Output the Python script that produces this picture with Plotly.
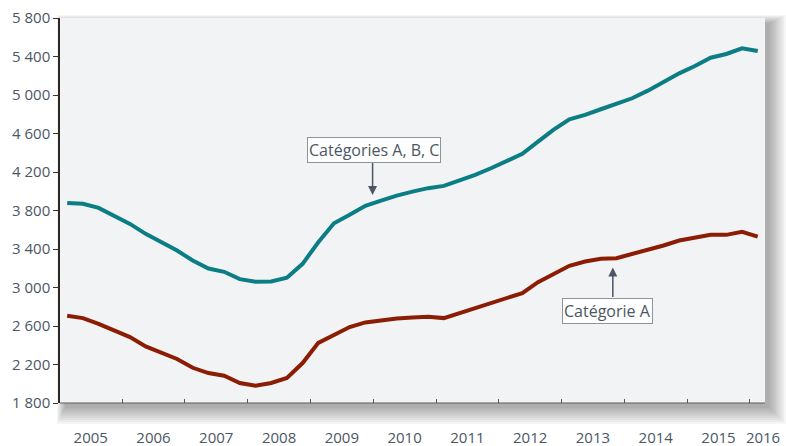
import plotly.graph_objects as go

# Quarterly data, 2005 Q1 .. 2016 Q1 (thousands)
x_pos = [2005 + (q - 0.5) / 4 + (y - 2005) for y in range(2005, 2017) for q in range(1, 5)][:45]

cat_abc = [3877, 3869, 3827, 3744,
           3661, 3557, 3467, 3384,
           3280, 3197, 3163, 3087,
           3059, 3062, 3101, 3246,
           3470, 3668, 3755, 3848,
           3903, 3955, 3996, 4032,
           4056, 4111, 4170, 4239,
           4315, 4388, 4516, 4640,
           4748, 4793, 4852, 4907,
           4966, 5045, 5138, 5225,
           5301, 5387, 5426, 5485,
           5457]

cat_a = [2706, 2682, 2623, 2550,
         2485, 2388, 2319, 2257,
         2166, 2111, 2083, 2008,
         1980, 2008, 2060, 2215,
         2425, 2509, 2589, 2637,
         2662, 2678, 2689, 2696,
         2682, 2734, 2776, 2838,
         2880, 2942, 3056, 3137,
         3225, 3270, 3298, 3305,
         3347, 3388, 3436, 3488,
         3513, 3547, 3547, 3578,
         3529]

y_ticks = [1800, 2200, 2600, 3000, 3400, 3800, 4200, 4600, 5000, 5400, 5800]
y_ticktext = ["1 800", "2 200", "2 600", "3 000", "3 400", "3 800", "4 200", "4 600", "5 000", "5 400", "5 800"]
year_labels = ["2005", "2006", "2007", "2008", "2009", "2010", "2011", "2012", "2013", "2014", "2015", "2016"]
year_label_pos = [2005.5, 2006.5, 2007.5, 2008.5, 2009.5, 2010.5, 2011.5, 2012.5, 2013.5, 2014.5, 2015.5, 2016.21]
year_bounds = list(range(2006, 2017))

TEAL = "#0b7d84"
RED = "#8c1d05"
TXT = "#4b5764"
BG = "#f2f3f5"
FONT = "Open Sans"

W, H = 786, 446
ML, MR, MT, MB = 59.5, 21, 18, 42.5
PW, PH = W - ML - MR, H - MT - MB

fig = go.Figure()
fig.add_trace(go.Scatter(x=x_pos, y=cat_abc, mode="lines", name="Catégories A, B, C",
                         line=dict(color=TEAL, width=4), hoverinfo="skip"))
fig.add_trace(go.Scatter(x=x_pos, y=cat_a, mode="lines", name="Catégorie A",
                         line=dict(color=RED, width=4), hoverinfo="skip"))

shapes = []
def px_x(p):
    return p / PW
def px_y(p):
    return p / PH
off = 5
for b in range(16, -1, -2):
    shapes.append(dict(type="rect", xref="paper", yref="paper", layer="below",
                       x0=px_x(off - b * 0.5), x1=1 + px_x(off + b),
                       y0=-px_y(off + b), y1=1 - px_y(off - b * 0.5),
                       fillcolor="rgba(0,0,0,0.04)", line=dict(width=0)))
shapes.append(dict(type="rect", xref="paper", yref="paper", layer="below",
                   x0=0, x1=1, y0=0, y1=1, fillcolor=BG, line=dict(width=0)))
shapes.append(dict(type="line", xref="paper", yref="paper", layer="above",
                   x0=0, x1=1, y0=0, y1=0, line=dict(color="#5a5a5a", width=1)))

annotations = [
    dict(x=2009.99, y=3962, xref="x", yref="y", text="", showarrow=True,
         ax=0, ay=-34, axref="pixel", ayref="pixel", arrowhead=2, arrowsize=1.2,
         arrowwidth=1.5, arrowcolor=TXT, standoff=0, startstandoff=0),
    dict(x=2010.017, y=4429, xref="x", yref="y", text="Catégories A, B, C", showarrow=False,
         font=dict(family=FONT, size=16, color=TXT), bgcolor="white",
         bordercolor="#8d959c", borderwidth=1, borderpad=1),
    dict(x=2013.817, y=3208, xref="x", yref="y", text="", showarrow=True,
         ax=0, ay=31, axref="pixel", ayref="pixel", arrowhead=2, arrowsize=1.2,
         arrowwidth=1.5, arrowcolor=TXT, standoff=0, startstandoff=0),
    dict(x=2013.731, y=2761, xref="x", yref="y", text="Catégorie A", showarrow=False,
         font=dict(family=FONT, size=16, color=TXT), bgcolor="white",
         bordercolor="#8d959c", borderwidth=1, borderpad=1),
]

fig.update_layout(
    width=W, height=H,
    margin=dict(l=ML, r=MR, t=MT, b=MB, pad=0, autoexpand=False),
    paper_bgcolor="white", plot_bgcolor=BG,
    showlegend=False,
    font=dict(family=FONT, size=15, color=TXT),
    shapes=shapes, annotations=annotations,
    xaxis=dict(range=[2005.0104, 2016.241], showgrid=False, zeroline=False,
               automargin=False,
               tickvals=year_label_pos, ticktext=year_labels, ticks="",
               ticklabelstandoff=24, tickfont=dict(family=FONT, size=15, color=TXT),
               showline=False,
               minor=dict(tickvals=year_bounds, ticks="inside", ticklen=4,
                          tickcolor="#555555", tickwidth=1, showgrid=False)),
    yaxis=dict(range=[1800, 5800], showgrid=False, zeroline=False,
               automargin=False,
               tickvals=y_ticks, ticktext=y_ticktext, ticks="outside", ticklen=5,
               tickcolor="#3a3530", tickwidth=1,
               showline=True, linecolor="#2e2824", linewidth=1.5,
               tickfont=dict(family=FONT, size=15, color=TXT)),
)

fig.write_html("out.html", config={"displayModeBar": False},
               post_script="document.body.style.margin='0';")
